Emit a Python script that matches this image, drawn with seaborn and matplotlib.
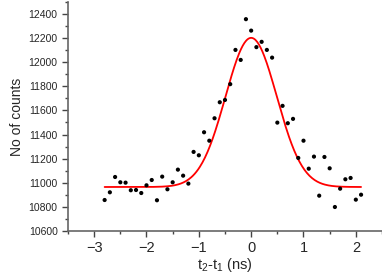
import numpy as np
import pandas as pd
import matplotlib
matplotlib.use("Agg")
import matplotlib.pyplot as plt
import seaborn as sns
from matplotlib.ticker import MultipleLocator

# measured coincidence counts vs delay t2-t1 (ns)
delay = [-2.8, -2.7, -2.6, -2.5, -2.4, -2.3, -2.2, -2.1, -2.0, -1.9,
         -1.8, -1.7, -1.6, -1.5, -1.4, -1.3, -1.2, -1.1, -1.0, -0.9,
         -0.8, -0.7, -0.6, -0.5, -0.4, -0.3, -0.2, -0.1, 0.0, 0.1,
         0.2, 0.3, 0.4, 0.5, 0.6, 0.7, 0.8, 0.9, 1.0, 1.1,
         1.2, 1.3, 1.4, 1.5, 1.6, 1.7, 1.8, 1.9, 2.0, 2.1]
counts = [10857, 10921, 11048, 11004, 11001, 10938, 10940, 10915, 10979, 11023,
          10855, 11051, 10946, 11004, 11109, 11059, 10993, 11256, 11228, 11419,
          11349, 11535, 11668, 11687, 11818, 12102, 12019, 12357, 12262, 12125,
          12169, 12102, 12038, 11499, 11638, 11494, 11530, 11206, 11349, 11117,
          11217, 10893, 11214, 11120, 10799, 10951, 11029, 11040, 10860, 10901]

# Gaussian fit parameters (baseline, amplitude, centre, sigma)
fit_base = 10965
fit_amp = 1237
fit_x0 = 0.0
fit_sigma = 0.49

df = pd.DataFrame({"delay": delay, "counts": counts})
xf = np.linspace(delay[0], delay[-1], 300)
fit = pd.DataFrame({"delay": xf,
                    "counts": fit_base + fit_amp * np.exp(-(xf - fit_x0) ** 2 / (2 * fit_sigma ** 2))})

sns.set_style("ticks")
plt.rcParams["font.family"] = ["Liberation Sans", "DejaVu Sans"]
plt.rcParams["mathtext.default"] = "regular"

fig = plt.figure(figsize=(3.82, 2.75), dpi=100)
ax = fig.add_axes([0.178, 0.16, 0.822, 0.833])

sns.scatterplot(data=df, x="delay", y="counts", color="black", s=9,
                edgecolor="none", ax=ax, zorder=3)
sns.lineplot(data=fit, x="delay", y="counts", color="red", lw=1.3, ax=ax)

ax.set_xlim(-3.5, 2.5)
ax.set_ylim(10600, 12500)
ax.xaxis.set_major_locator(MultipleLocator(1))
ax.xaxis.set_minor_locator(MultipleLocator(0.5))
ax.yaxis.set_minor_locator(MultipleLocator(100))
ax.set_yticks(np.arange(10600, 12401, 200))

ax.tick_params(axis="x", which="major", labelsize=10.5, length=4, width=1,
               color="#444444", pad=3)
ax.tick_params(axis="y", which="major", labelsize=7.5, length=4, width=1,
               color="#444444")
ax.tick_params(which="minor", length=2.5, width=1, color="#444444")

for side in ["top", "right"]:
    ax.spines[side].set_visible(False)
for side in ["left", "bottom"]:
    ax.spines[side].set_color("#666666")
    ax.spines[side].set_linewidth(1.2)

ax.set_xlabel("t$_2$-t$_1$ (ns)", fontsize=10.5, labelpad=1)
ax.set_ylabel("No of counts", fontsize=10, labelpad=3)

fig.savefig("out.png", dpi=100)
